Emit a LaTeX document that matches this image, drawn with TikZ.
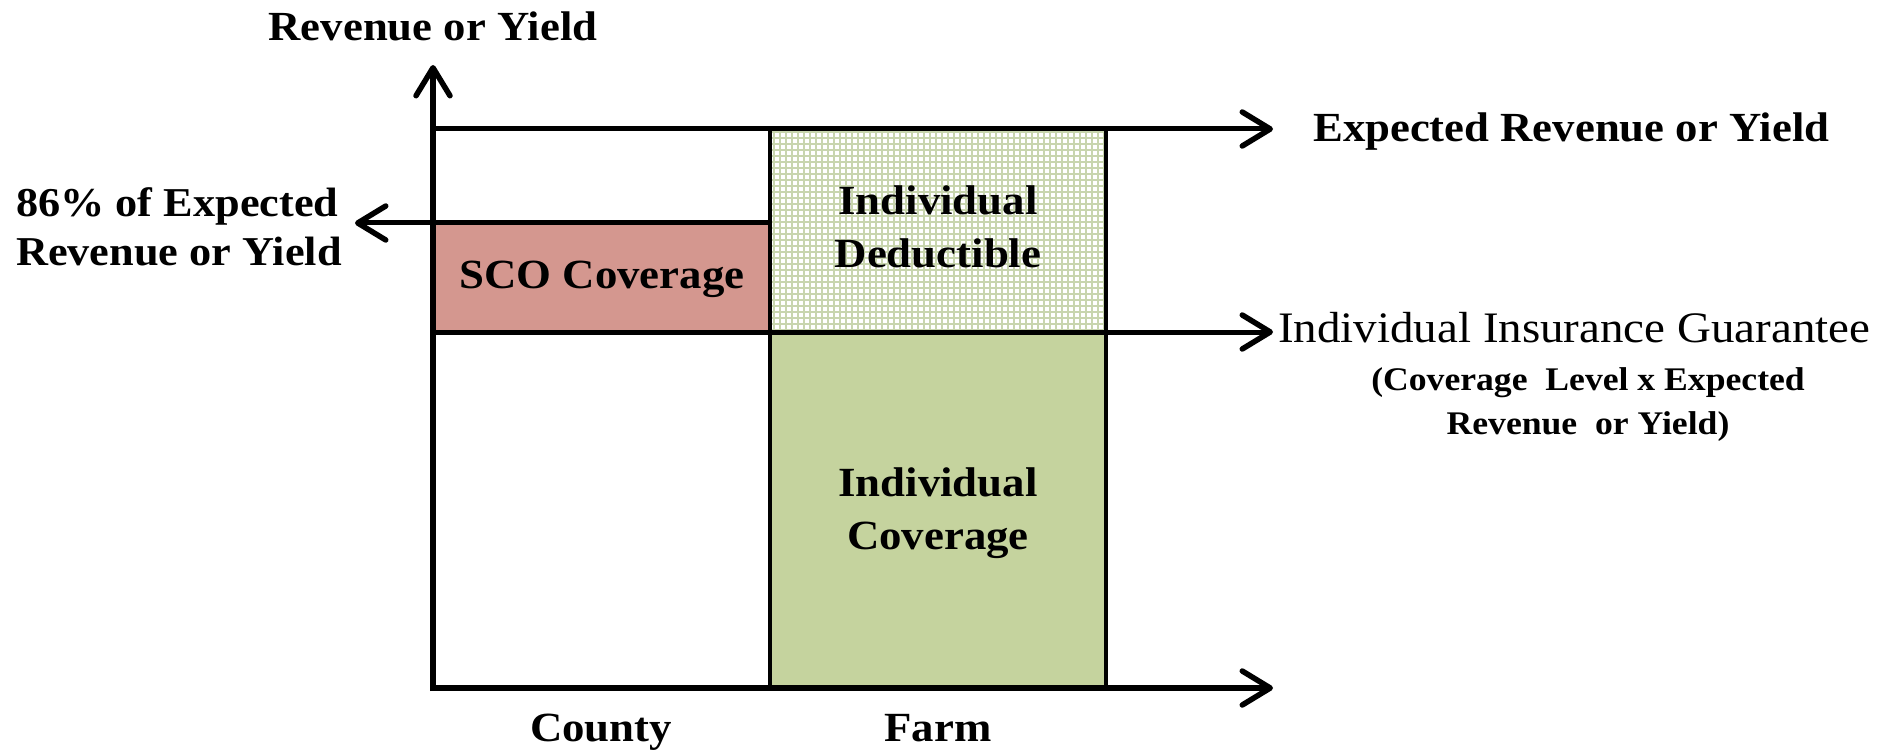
\documentclass[tikz,border=0pt]{standalone}
\usepackage{fontspec}
\setmainfont{Liberation Serif}[FakeStretch=1.08]
\usetikzlibrary{arrows.meta}
\definecolor{scofill}{HTML}{D4978F}
\definecolor{covfill}{HTML}{C5D39E}
\definecolor{gridgreen}{HTML}{C8D5AE}
\tikzset{
  barb/.tip={Straight Barb[length=28pt,width=34pt,line width=5.5pt,round]},
  axisline/.style={line width=6.5pt,-barb},
  levelline/.style={line width=5pt,-barb},
  divider/.style={line width=4.5pt},
  boxlab/.style={font=\bfseries\fontsize{41.5}{53}\selectfont,align=center,inner sep=0pt,anchor=base},
  sidelab/.style={font=\bfseries\fontsize{41.4}{50}\selectfont,inner sep=0pt},
}
\begin{document}
\begin{tikzpicture}[x=1pt,y=-1pt]
\useasboundingbox (0,0) rectangle (1900,751);
% coordinates
\coordinate (O) at (433,688);
\coordinate (Ytip) at (433,65);
\coordinate (Xtip) at (1273,688);
\coordinate (Etop) at (433,129);
\coordinate (Etip) at (1273,129);
\coordinate (Gl) at (433,332);
\coordinate (Gtip) at (1273,332);
\coordinate (Sr) at (770,223);
\coordinate (Stip) at (355,223);
% fills
\fill[scofill] (433,223) rectangle (770,332);
\fill[covfill] (770,332) rectangle (1106,688);
\fill[white] (770,129) rectangle (1106,332);
\begin{scope}
  \clip (770,332) rectangle (1106,129);
  \draw[gridgreen,line width=1.6pt,step=6pt] (764,338) grid (1112,123);
\end{scope}
% dividers
\draw[divider] (770,129) -- (770,688);
\draw[divider] (1106,129) -- (1106,688);
% level lines
\draw[levelline] (Etop) -- (Etip);
\draw[levelline] (Gl) -- (Gtip);
\draw[levelline] (Sr) -- (Stip);
% axes
\draw[axisline] (433,691) -- (Ytip);
\draw[axisline] (430,688) -- (Xtip);
% labels (base anchor of a two-line node is the last line's baseline)
\node[sidelab,anchor=base] (ylab) at (433,41) {Revenue or Yield};
\node[sidelab,anchor=base west] (elab) at (1313,142) {Expected Revenue or Yield};
\node[font=\bfseries\fontsize{41}{50}\selectfont,inner sep=0pt,align=left,anchor=base west] (plab) at (16,266) {86\% of Expected\\Revenue or Yield};
\node[boxlab] (sco) at (602,288) {SCO Coverage};
\node[boxlab] (ded) at (938,268) {Individual\\Deductible};
\node[boxlab] (cov) at (938,549) {Individual\\Coverage};
\node[font=\fontsize{43.5}{50}\selectfont,inner sep=0pt,anchor=base west] (glab) at (1278,342) {Individual Insurance Guarantee};
\node[font=\bfseries\fontsize{33}{44}\selectfont,inner sep=0pt,align=center,anchor=base] (paren) at (1588,434) {(Coverage\ \ Level x Expected\\Revenue\ \ or Yield)};
\node[boxlab] (county) at (601,741) {County};
\node[boxlab] (farm) at (938,741) {Farm};
\end{tikzpicture}
\end{document}
